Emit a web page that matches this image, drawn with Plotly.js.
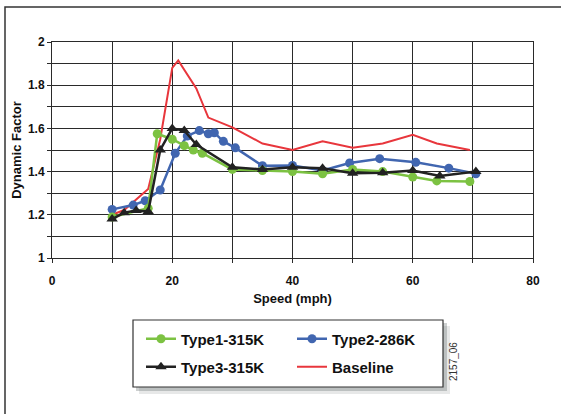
<!DOCTYPE html>
<html>
<head>
<meta charset="utf-8">
<script src="https://cdn.plot.ly/plotly-3.0.1.min.js"></script>
<style>html,body{margin:0;padding:0;background:#fff;}#chart{width:561px;height:414px;}</style>
</head>
<body>
<div id="chart"></div>
<script>
// ---- data ----
var type1X = [10, 16, 17.5, 20, 22, 23.5, 25, 30, 35, 40, 45, 50, 55, 60, 64, 69.5];
var type1Y = [1.19, 1.23, 1.575, 1.55, 1.52, 1.50, 1.485, 1.41, 1.405, 1.40, 1.39, 1.41, 1.40, 1.375, 1.357, 1.354];

var type2X = [10, 13.5, 15.5, 18, 20.5, 22.5, 24.5, 26, 27, 28.5, 30.5, 35, 40, 45, 49.5, 54.5, 60.5, 66, 70.5];
var type2Y = [1.225, 1.245, 1.265, 1.315, 1.485, 1.565, 1.59, 1.575, 1.58, 1.54, 1.51, 1.427, 1.428, 1.405, 1.44, 1.46, 1.443, 1.416, 1.39];

var type3X = [10, 12, 14, 16, 18, 20, 22, 24, 30, 35, 40, 45, 50, 55, 60, 64.5, 70.5];
var type3Y = [1.18, 1.21, 1.22, 1.215, 1.50, 1.60, 1.59, 1.525, 1.42, 1.41, 1.42, 1.415, 1.392, 1.395, 1.405, 1.38, 1.40];

var baseX = [10, 12, 16, 18, 20, 21, 24, 26, 30, 35, 40, 45, 50, 55, 60, 64, 69.5];
var baseY = [1.20, 1.222, 1.32, 1.55, 1.88, 1.915, 1.785, 1.65, 1.605, 1.53, 1.50, 1.54, 1.51, 1.53, 1.57, 1.53, 1.50];

var seriesNames = ['Type1-315K', 'Type2-286K', 'Type3-315K', 'Baseline'];
var xTickVals = [0, 20, 40, 60, 80];
var yTickVals = [1, 1.2, 1.4, 1.6, 1.8, 2];

// ---- layout helpers (pixel -> paper) ----
var W = 561, H = 414, L = 52, R = 28, T = 42, B = 156;
var PW = W - L - R, PH = H - T - B;
function px(x) { return (x - L) / PW; }
function py(y) { return (H - B - y) / PH; }

var green = '#7cc242', blue = '#4166b0', black = '#222222', red = '#e8363c';
var fontFam = '"Liberation Sans", Arial, sans-serif';

var traces = [
  { x: baseX, y: baseY, name: seriesNames[3], mode: 'lines', legend: 'legend4',
    line: { color: red, width: 2 } },
  { x: type2X, y: type2Y, name: seriesNames[1], mode: 'lines+markers', legend: 'legend2',
    line: { color: blue, width: 2.5 }, marker: { color: blue, size: 9, symbol: 'circle' } },
  { x: type1X, y: type1Y, name: seriesNames[0], mode: 'lines+markers', legend: 'legend',
    line: { color: green, width: 2.5 }, marker: { color: green, size: 9, symbol: 'circle' } },
  { x: type3X, y: type3Y, name: seriesNames[2], mode: 'lines+markers', legend: 'legend3',
    line: { color: black, width: 2.5 }, marker: { color: black, size: 10, symbol: 'triangle-up' } }
];

function leg(xp, yp) {
  return { x: px(xp), y: py(yp), xanchor: 'left', yanchor: 'middle', bgcolor: 'rgba(0,0,0,0)',
    borderwidth: 0, font: { family: fontFam, size: 15, color: '#111', weight: 'bold' } };
}

var gridC = '#2a2a2a';
var layout = {
  width: W, height: H,
  margin: { l: L, r: R, t: T, b: B },
  paper_bgcolor: '#ffffff', plot_bgcolor: '#ffffff',
  showlegend: true,
  legend: leg(141, 339),
  legend2: leg(292, 339),
  legend3: leg(141, 367),
  legend4: leg(292, 367),
  xaxis: {
    range: [0, 80], tickvals: xTickVals, ticktext: xTickVals.map(String),
    showgrid: true, gridcolor: gridC, gridwidth: 1,
    showline: true, linecolor: gridC, linewidth: 1, mirror: true,
    ticks: 'outside', ticklen: 4, tickcolor: gridC,
    ticklabelstandoff: 8,
    minor: { dtick: 10, showgrid: true, gridcolor: gridC, gridwidth: 1, ticks: 'outside', ticklen: 4, tickcolor: gridC },
    zeroline: false,
    tickfont: { family: fontFam, size: 12, color: '#111', weight: 'bold' },
    title: { text: 'Speed (mph)', standoff: 6, font: { family: fontFam, size: 13, color: '#111', weight: 'bold' } }
  },
  yaxis: {
    range: [1, 2], tickvals: yTickVals, ticktext: ['1', '1.2', '1.4', '1.6', '1.8', '2'],
    showgrid: true, gridcolor: gridC, gridwidth: 1,
    showline: true, linecolor: gridC, linewidth: 1, mirror: true,
    ticks: 'outside', ticklen: 4, tickcolor: gridC,
    minor: { dtick: 0.1, showgrid: true, gridcolor: gridC, gridwidth: 1, ticks: 'outside', ticklen: 4, tickcolor: gridC },
    zeroline: false,
    tickfont: { family: fontFam, size: 12, color: '#111', weight: 'bold' },
    title: { text: 'Dynamic Factor', standoff: 3, font: { family: fontFam, size: 13, color: '#111', weight: 'bold' } }
  },
  shapes: [
    // outer frame
    { type: 'rect', xref: 'paper', yref: 'paper', x0: px(5), x1: px(575), y0: py(430), y1: py(7),
      line: { color: '#333', width: 1.5 }, fillcolor: 'rgba(0,0,0,0)', layer: 'below' },
    // legend shadow
    { type: 'rect', xref: 'paper', yref: 'paper', x0: px(139), x1: px(450), y0: py(394), y1: py(326),
      line: { width: 0 }, fillcolor: 'rgba(120,130,130,0.18)' },
    { type: 'rect', xref: 'paper', yref: 'paper', x0: px(136), x1: px(447), y0: py(391), y1: py(323),
      line: { width: 0 }, fillcolor: 'rgba(90,100,100,0.30)' },
    // legend box
    { type: 'rect', xref: 'paper', yref: 'paper', x0: px(133), x1: px(443), y0: py(387), y1: py(320),
      line: { color: '#333', width: 1.2 }, fillcolor: '#ffffff' }
  ],
  annotations: [
    { text: '2157_06', xref: 'paper', yref: 'paper', x: px(453), y: py(362), xanchor: 'center', yanchor: 'middle',
      showarrow: false, textangle: -90, font: { family: fontFam, size: 10, color: '#333' } }
  ]
};

Plotly.newPlot('chart', traces, layout, { displayModeBar: false, staticPlot: true });
</script>
</body>
</html>
